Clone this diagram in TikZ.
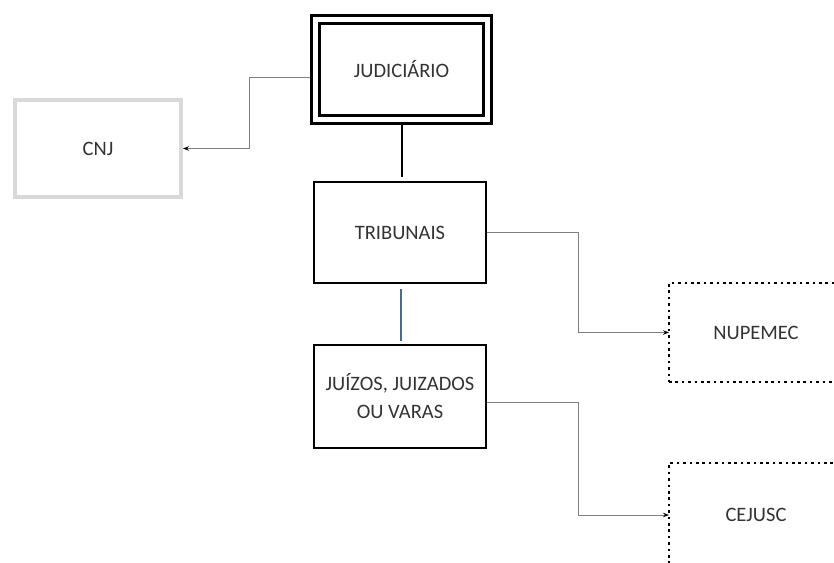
\documentclass[tikz,border=0pt]{standalone}
\usepackage{fontspec}
\setmainfont{Carlito}
\usetikzlibrary{arrows.meta}
\definecolor{txtgray}{HTML}{333333}
\definecolor{boxgray}{HTML}{D9D9D9}
\definecolor{linkgray}{HTML}{7F7F7F}
\definecolor{steel}{HTML}{4A6B8A}
\tikzset{
  lbl/.style={text=txtgray, font=\fontsize{20.5}{28}\selectfont, align=center, inner sep=0pt},
  blackbox/.style={lbl, draw=black, line width=2.5pt, outer sep=1.25pt},
  dblbox/.style={lbl, draw=black, line width=3pt, double=white, double distance=5pt, outer sep=5.5pt},
  graybox/.style={lbl, draw=boxgray, line width=4pt, outer sep=2pt},
  dotbox/.style={lbl, draw=black, line width=2.5pt, dash pattern=on 2.6pt off 3.8pt, outer sep=0pt},
  conn/.style={draw=linkgray, line width=1pt, -{Stealth[length=6pt,width=4.5pt,black]}},
}
\begin{document}
\begin{tikzpicture}[x=1pt,y=-1pt]
\useasboundingbox (0,0) rectangle (834,562);
\clip (0,0) rectangle (834,562);
\node[dblbox, minimum width=172pt, minimum height=100pt] (jud) at (401.5,69) {JUDICIÁRIO};
\node[graybox, minimum width=166pt, minimum height=97pt] (cnj) at (98,148.5) {CNJ};
\node[blackbox, minimum width=172pt, minimum height=101pt] (trib) at (400,232.5) {TRIBUNAIS};
\node[blackbox, minimum width=172pt, minimum height=103pt] (juiz) at (400,396.5) {JUÍZOS, JUIZADOS\\OU VARAS};
\node[dotbox, minimum width=174pt, minimum height=99pt] (nup) at (756,332.5) {NUPEMEC};
\node[dotbox, minimum width=174pt, minimum height=104pt] (cej) at (756,515) {CEJUSC};
\draw[conn] ([yshift=-8pt]jud.west) -- ++(-61,0) |- (cnj.east);
\draw[line width=2.5pt, black] ([xshift=0.5pt]jud.south) -- ([xshift=2pt,yshift=4pt]trib.north);
\draw[line width=2.5pt, steel] ([xshift=1pt,yshift=-5pt]trib.south) -- ([xshift=1pt,yshift=3pt]juiz.north);
\draw[conn] (trib.east) -- ++(91,0) |- (nup.west);
\draw[conn] ([yshift=-5.5pt]juiz.east) -- ++(91,0) |- (cej.west);
\end{tikzpicture}
\end{document}
